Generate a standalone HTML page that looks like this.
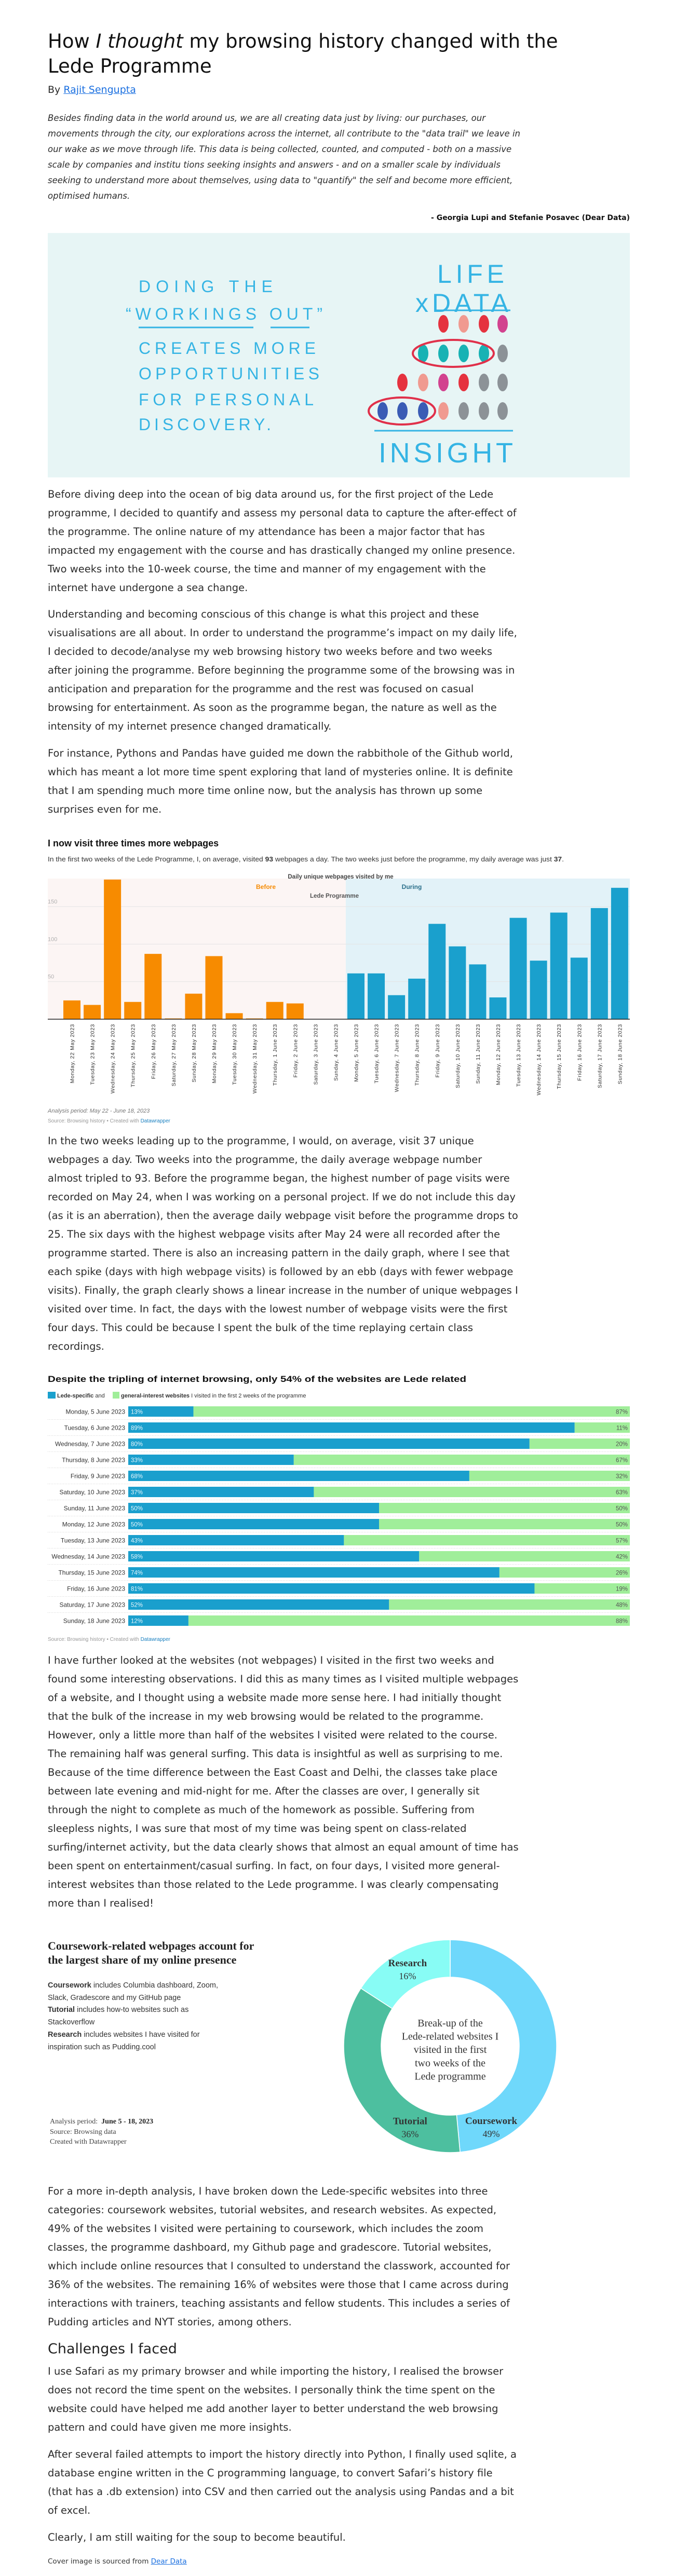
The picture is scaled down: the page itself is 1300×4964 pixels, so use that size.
<!DOCTYPE html>
<html><head><meta charset="utf-8"><title>How I thought my browsing history changed with the Lede Programme</title>
<style>
html,body{margin:0;padding:0;background:#fff;}
body{width:1300px;height:4964px;position:relative;overflow:hidden;font-family:"DejaVu Sans","Liberation Sans",sans-serif;color:#2a2a2a;}
.abs{position:absolute;left:92px;white-space:nowrap;}
.p{font-size:19.5px;line-height:36px;color:#2b2b2b;}
.q{font-size:16.5px;line-height:30px;font-style:italic;color:#2b2b2b;}
a{color:#1a6fe0;}
svg text{font-family:"Liberation Sans",sans-serif;}
</style></head>
<body>
<h1 class="abs" style="top:56px;margin:0;font-weight:normal;font-size:37px;line-height:48px;color:#111;">How <i>I thought</i> my browsing history changed with the<br>Lede Programme</h1>
<div class="abs" style="top:161px;font-size:19px;line-height:24px;">By <a href="#">Rajit Sengupta</a></div>
<div class="abs q" style="top:213px;">Besides finding data in the world around us, we are all creating data just by living: our purchases, our<br>movements through the city, our explorations across the internet, all contribute to the "data trail" we leave in<br>our wake as we move through life. This data is being collected, counted, and computed - both on a massive<br>scale by companies and institu tions seeking insights and answers - and on a smaller scale by individuals<br>seeking to understand more about themselves, using data to "quantify" the self and become more efficient,<br>optimised humans.</div>
<div class="abs" style="top:412px;left:auto;right:87px;font-size:14px;font-weight:bold;color:#111;">- Georgia Lupi and Stefanie Posavec (Dear Data)</div>

<div class="abs p" style="top:935px;">Before diving deep into the ocean of big data around us, for the first project of the Lede<br>programme, I decided to quantify and assess my personal data to capture the after-effect of<br>the programme. The online nature of my attendance has been a major factor that has<br>impacted my engagement with the course and has drastically changed my online presence.<br>Two weeks into the 10-week course, the time and manner of my engagement with the<br>internet have undergone a sea change.</div>
<div class="abs p" style="top:1166px;">Understanding and becoming conscious of this change is what this project and these<br>visualisations are all about. In order to understand the programme’s impact on my daily life,<br>I decided to decode/analyse my web browsing history two weeks before and two weeks<br>after joining the programme. Before beginning the programme some of the browsing was in<br>anticipation and preparation for the programme and the rest was focused on casual<br>browsing for entertainment. As soon as the programme began, the nature as well as the<br>intensity of my internet presence changed dramatically.</div>
<div class="abs p" style="top:1434px;">For instance, Pythons and Pandas have guided me down the rabbithole of the Github world,<br>which has meant a lot more time spent exploring that land of mysteries online. It is definite<br>that I am spending much more time online now, but the analysis has thrown up some<br>surprises even for me.</div>

<div class="abs p" style="top:2181px;">In the two weeks leading up to the programme, I would, on average, visit 37 unique<br>webpages a day. Two weeks into the programme, the daily average webpage number<br>almost tripled to 93. Before the programme began, the highest number of page visits were<br>recorded on May 24, when I was working on a personal project. If we do not include this day<br>(as it is an aberration), then the average daily webpage visit before the programme drops to<br>25. The six days with the highest webpage visits after May 24 were all recorded after the<br>programme started. There is also an increasing pattern in the daily graph, where I see that<br>each spike (days with high webpage visits) is followed by an ebb (days with fewer webpage<br>visits). Finally, the graph clearly shows a linear increase in the number of unique webpages I<br>visited over time. In fact, the days with the lowest number of webpage visits were the first<br>four days. This could be because I spent the bulk of the time replaying certain class<br>recordings.</div>

<div class="abs p" style="top:3182px;">I have further looked at the websites (not webpages) I visited in the first two weeks and<br>found some interesting observations. I did this as many times as I visited multiple webpages<br>of a website, and I thought using a website made more sense here. I had initially thought<br>that the bulk of the increase in my web browsing would be related to the programme.<br>However, only a little more than half of the websites I visited were related to the course.<br>The remaining half was general surfing. This data is insightful as well as surprising to me.<br>Because of the time difference between the East Coast and Delhi, the classes take place<br>between late evening and mid-night for me. After the classes are over, I generally sit<br>through the night to complete as much of the homework as possible. Suffering from<br>sleepless nights, I was sure that most of my time was being spent on class-related<br>surfing/internet activity, but the data clearly shows that almost an equal amount of time has<br>been spent on entertainment/casual surfing. In fact, on four days, I visited more general-<br>interest websites than those related to the Lede programme. I was clearly compensating<br>more than I realised!</div>

<div class="abs" style="top:3736px;font-family:'Liberation Serif',serif;font-weight:bold;font-size:22px;line-height:27px;color:#222;">Coursework-related webpages account for<br>the largest share of my online presence</div>
<div class="abs" style="top:3815px;font-family:'Liberation Sans',sans-serif;font-size:14.5px;line-height:23.7px;color:#333;"><b>Coursework</b> includes Columbia dashboard, Zoom,<br>Slack, Gradescore and my GitHub page<br><b>Tutorial</b> includes how-to websites such as<br>Stackoverflow<br><b>Research</b> includes websites I have visited for<br>inspiration such as Pudding.cool</div>
<div class="abs" style="top:4079px;left:96px;font-family:'Liberation Serif',serif;font-size:14px;line-height:19.5px;color:#444;">Analysis period:&nbsp; <b style="color:#222">June 5 - 18, 2023</b><br>Source: Browsing data<br>Created with Datawrapper</div>

<div class="abs p" style="top:4205px;">For a more in-depth analysis, I have broken down the Lede-specific websites into three<br>categories: coursework websites, tutorial websites, and research websites. As expected,<br>49% of the websites I visited were pertaining to coursework, which includes the zoom<br>classes, the programme dashboard, my Github page and gradescore. Tutorial websites,<br>which include online resources that I consulted to understand the classwork, accounted for<br>36% of the websites. The remaining 16% of websites were those that I came across during<br>interactions with trainers, teaching assistants and fellow students. This includes a series of<br>Pudding articles and NYT stories, among others.</div>
<h2 class="abs" style="top:4508px;margin:0;font-weight:normal;font-size:27px;line-height:38px;color:#222;">Challenges I faced</h2>
<div class="abs p" style="top:4552px;">I use Safari as my primary browser and while importing the history, I realised the browser<br>does not record the time spent on the websites. I personally think the time spent on the<br>website could have helped me add another layer to better understand the web browsing<br>pattern and could have given me more insights.</div>
<div class="abs p" style="top:4712px;">After several failed attempts to import the history directly into Python, I finally used sqlite, a<br>database engine written in the C programming language, to convert Safari’s history file<br>(that has a .db extension) into CSV and then carried out the analysis using Pandas and a bit<br>of excel.</div>
<div class="abs p" style="top:4872px;">Clearly, I am still waiting for the soup to become beautiful.</div>
<div class="abs" style="top:4927px;font-size:13.5px;line-height:18px;color:#333;">Cover image is sourced from <a href="#">Dear Data</a></div>

<svg id="art" width="1300" height="4964" style="position:absolute;left:0;top:0;pointer-events:none;" xmlns="http://www.w3.org/2000/svg">
 <g id="cover" transform="translate(92,449)">
  <rect width="1121" height="471" fill="#e7f5f5"/>
  <g fill="#35b4e4" font-size="32" style="font-family:'Liberation Sans',sans-serif">
   <text x="175" y="114" textLength="258" lengthAdjust="spacing">DOING THE</text>
   <text x="150" y="167" textLength="379" lengthAdjust="spacing">“WORKINGS OUT”</text>
   <text x="175" y="233" textLength="341" lengthAdjust="spacing">CREATES MORE</text>
   <text x="175" y="282" textLength="348" lengthAdjust="spacing">OPPORTUNITIES</text>
   <text x="175" y="332" textLength="337" lengthAdjust="spacing">FOR PERSONAL</text>
   <text x="175" y="380" textLength="255" lengthAdjust="spacing">DISCOVERY.</text>
   <text x="750" y="96" font-size="50" textLength="129" lengthAdjust="spacing">LIFE</text>
   <text x="708" y="152" font-size="50" textLength="179" lengthAdjust="spacing">xDATA</text>
   <text x="637" y="442" font-size="54" textLength="259" lengthAdjust="spacing">INSIGHT</text>
  </g>
  <g stroke="#35b4e4" stroke-width="3">
   <line x1="175" y1="182" x2="396" y2="182"/><line x1="429" y1="182" x2="504" y2="182"/>
   <line x1="745" y1="149" x2="891" y2="149"/><line x1="629" y1="381" x2="896" y2="381"/>
  </g>
  <g>
   <ellipse cx="762" cy="175" rx="10" ry="17" fill="#e5323f"/><ellipse cx="801" cy="175" rx="10" ry="17" fill="#f09a90"/><ellipse cx="840" cy="175" rx="10" ry="17" fill="#e5323f"/><ellipse cx="876" cy="175" rx="10" ry="17" fill="#d2428f"/>
   <ellipse cx="723" cy="232" rx="10" ry="17" fill="#17b2b4"/><ellipse cx="762" cy="232" rx="10" ry="17" fill="#17b2b4"/><ellipse cx="801" cy="232" rx="10" ry="17" fill="#17b2b4"/><ellipse cx="840" cy="232" rx="10" ry="17" fill="#17b2b4"/><ellipse cx="876" cy="232" rx="10" ry="17" fill="#8c9297"/>
   <ellipse cx="781" cy="232" rx="78" ry="26" fill="none" stroke="#e0304a" stroke-width="4"/>
   <ellipse cx="683" cy="288" rx="10" ry="17" fill="#e5323f"/><ellipse cx="723" cy="288" rx="10" ry="17" fill="#f09a90"/><ellipse cx="762" cy="288" rx="10" ry="17" fill="#d2428f"/><ellipse cx="801" cy="288" rx="10" ry="17" fill="#e5323f"/><ellipse cx="840" cy="288" rx="10" ry="17" fill="#8c9297"/><ellipse cx="876" cy="288" rx="10" ry="17" fill="#8c9297"/>
   <ellipse cx="645" cy="343" rx="10" ry="17" fill="#3a5cb5"/><ellipse cx="683" cy="343" rx="10" ry="17" fill="#3a5cb5"/><ellipse cx="723" cy="343" rx="10" ry="17" fill="#3a5cb5"/><ellipse cx="762" cy="343" rx="10" ry="17" fill="#f09a90"/><ellipse cx="801" cy="343" rx="10" ry="17" fill="#8c9297"/><ellipse cx="840" cy="343" rx="10" ry="17" fill="#8c9297"/><ellipse cx="876" cy="343" rx="10" ry="17" fill="#8c9297"/>
   <ellipse cx="682" cy="343" rx="64" ry="26" fill="none" stroke="#e0304a" stroke-width="4"/>
  </g>
 </g>
 <g id="chart1"></g>
 <g id="chart2"></g>
 <g id="chart3"></g>
</svg>

<script>
// ---------- Chart 1 data ----------
const days1 = ["Monday, 22 May 2023","Tuesday, 23 May 2023","Wednesday, 24 May 2023","Thursday, 25 May 2023","Friday, 26 May 2023","Saturday, 27 May 2023","Sunday, 28 May 2023","Monday, 29 May 2023","Tuesday, 30 May 2023","Wednesday, 31 May 2023","Thursday, 1 June 2023","Friday, 2 June 2023","Saturday, 3 June 2023","Sunday, 4 June 2023","Monday, 5 June 2023","Tuesday, 6 June 2023","Wednesday, 7 June 2023","Thursday, 8 June 2023","Friday, 9 June 2023","Saturday, 10 June 2023","Sunday, 11 June 2023","Monday, 12 June 2023","Tuesday, 13 June 2023","Wednesday, 14 June 2023","Thursday, 15 June 2023","Friday, 16 June 2023","Saturday, 17 June 2023","Sunday, 18 June 2023"];
const visits = [25,19,186,23,87,1,34,84,8,1,23,21,0,0,61,61,32,54,127,97,73,29,135,78,142,82,148,175];
const phase = ["before","before","before","before","before","before","before","before","before","before","before","before","before","before","during","during","during","during","during","during","during","during","during","during","during","during","during","during"];
const yTicks1 = [50,100,150];
// ---------- Chart 2 data ----------
const days2 = ["Monday, 5 June 2023","Tuesday, 6 June 2023","Wednesday, 7 June 2023","Thursday, 8 June 2023","Friday, 9 June 2023","Saturday, 10 June 2023","Sunday, 11 June 2023","Monday, 12 June 2023","Tuesday, 13 June 2023","Wednesday, 14 June 2023","Thursday, 15 June 2023","Friday, 16 June 2023","Saturday, 17 June 2023","Sunday, 18 June 2023"];
const ledeShare = [13,89,80,33,68,37,50,50,43,58,74,81,52,12];
const generalShare = [87,11,20,67,32,63,50,50,57,42,26,19,48,88];
// ---------- Chart 3 data ----------
const categories3 = ["Coursework","Tutorial","Research"];
const shares3 = [49,36,16];

const NS = "http://www.w3.org/2000/svg";
function mk(tag, attrs, parent){const e=document.createElementNS(NS,tag);for(const k in attrs)e.setAttribute(k,attrs[k]);parent.appendChild(e);return e;}
function txt(str, attrs, parent){const e=mk("text",attrs,parent);e.textContent=str;return e;}

// ===== Chart 1 =====
(function(){
 const g=document.getElementById("chart1");
 const L=92,R=1213,T=1693,B=1964;
 const step=39.07, bw=33, x0=122;
 const x1=i=>x0+i*step;
 const y1=v=>B-v*(B-1747)/150;
 let t;
 t=txt("I now visit three times more webpages",{x:L,y:1631,"font-size":18,"font-weight":"bold",fill:"#111"},g);
 
 
 t=mk("text",{x:L,y:1660,"font-size":12.5,fill:"#333",textLength:994,lengthAdjust:"spacingAndGlyphs"},g);
 t.innerHTML='In the first two weeks of the Lede Programme, I, on average, visited <tspan font-weight="bold">93</tspan> webpages a day. The two weeks just before the programme, my daily average was just <tspan font-weight="bold">37</tspan>.';
 
 
 const split=(x1(13)+bw+x1(14))/2;
 let r=mk("rect",{x:L,y:T,width:split-L,height:B-T,fill:"#fcf5f4"},g);
 
 
 r=mk("rect",{x:split,y:T,width:R-split,height:B-T,fill:"#e2f2f8"},g);
 
 
 yTicks1.forEach(v=>{
  const l=mk("line",{x1:L,x2:R,y1:y1(v),y2:y1(v),stroke:"#e4e4e4","stroke-width":1},g);
  
  
  const tl=txt(String(v),{x:L,y:y1(v)-6,"font-size":11,fill:"#b0b0b0"},g);
  
  
 });
 t=txt("Daily unique webpages visited by me",{x:656,y:1693,"font-size":11.5,fill:"#444","text-anchor":"middle","font-weight":"bold"},g);
 
 
 t=txt("Before",{x:512,y:1713,"font-size":12,fill:"#f68a00","text-anchor":"middle","font-weight":"bold"},g);
 
 
 t=txt("During",{x:793,y:1713,"font-size":12,fill:"#2a6f8a","text-anchor":"middle","font-weight":"bold"},g);
 
 
 t=txt("Lede Programme",{x:644,y:1730,"font-size":11.5,fill:"#555","text-anchor":"middle","font-weight":"bold"},g);
 
 
 visits.forEach((v,i)=>{
  const b=mk("rect",{x:x1(i),y:y1(v),width:bw,height:B-y1(v),fill:phase[i]==="before"?"#f78b00":"#1aa0cd"},g);
  
  
  const cx=x1(i)+bw/2+4;
  const lab=txt(days1[i],{x:cx,y:1973,"font-size":10.5,fill:"#333","text-anchor":"end",transform:"rotate(-90 "+cx+" 1973)","letter-spacing":"0.6"},g);
  
  
 });
 const ax=mk("line",{x1:L,x2:R,y1:B,y2:B,stroke:"#222","stroke-width":1.5},g);
 
 
 t=txt("Analysis period: May 22 - June 18, 2023",{x:L,y:2144,"font-size":11,fill:"#777","font-style":"italic"},g);
 
 
 t=mk("text",{x:L,y:2163,"font-size":10,fill:"#999"},g);
 t.innerHTML='Source: Browsing history • Created with <tspan fill="#1a80c0">Datawrapper</tspan>';
 
 
})();

// ===== Chart 2 =====
(function(){
 const g=document.getElementById("chart2");
 const L=92,R=1213,X0=247,W=R-X0,top0=2710,rowH=31,bh=20;
 const x2=p=>X0+p/100*W;
 let t=txt("Despite the tripling of internet browsing, only 54% of the websites are Lede related",{x:L,y:2663,"font-size":17,"font-weight":"bold",fill:"#111",textLength:806,lengthAdjust:"spacingAndGlyphs"},g);
 
 
 let s=mk("rect",{x:L,y:2682,width:15,height:13,fill:"#1aa0cd"},g);
 
 
 s=mk("rect",{x:217,y:2682,width:13,height:13,fill:"#a0ee9a"},g);
 
 
 t=mk("text",{x:110,y:2693,"font-size":11,fill:"#333"},g);
 t.innerHTML='<tspan font-weight="bold">Lede-specific</tspan> and';
 
 
 t=mk("text",{x:233,y:2693,"font-size":11,fill:"#333"},g);
 t.innerHTML='<tspan font-weight="bold">general-interest websites</tspan> I visited in the first 2 weeks of the programme';
 
 
 days2.forEach((d,i)=>{
  const y=top0+i*rowH;
  const lab=txt(d,{x:241,y:y+14.5,"font-size":12,fill:"#333","text-anchor":"end"},g);
  
  
  const a=mk("rect",{x:x2(0),y:y,width:x2(ledeShare[i])-x2(0),height:bh,fill:"#1a9fcd"},g);
  
  
  const b=mk("rect",{x:x2(ledeShare[i]),y:y,width:x2(ledeShare[i]+generalShare[i])-x2(ledeShare[i]),height:bh,fill:"#a0ee9a"},g);
  
  
  const v1=txt(ledeShare[i]+"%",{x:x2(0)+5,y:y+14.5,"font-size":11.5,fill:"#e8f6fb"},g);
  
  
  const v2=txt(generalShare[i]+"%",{x:x2(100)-4,y:y+14.5,"font-size":11.5,fill:"#555","text-anchor":"end"},g);
  
  
  if(i<days2.length-1){
   const l=mk("line",{x1:L,x2:R,y1:y+bh+5.5,y2:y+bh+5.5,stroke:"#cfcfcf","stroke-width":1,"stroke-dasharray":"1,2"},g);
   
   
  }
 });
 t=mk("text",{x:L,y:3162,"font-size":10,fill:"#999"},g);
 t.innerHTML='Source: Browsing history • Created with <tspan fill="#1a80c0">Datawrapper</tspan>';
 
 
})();

// ===== Chart 3 =====
(function(){
 const g=document.getElementById("chart3");
 const cx=867,cy=3943,Ro=205,Ri=133;
 const colors={"Coursework":"#6fd8fb","Tutorial":"#4dbf9f","Research":"#88fcf5"};
 const total=shares3.reduce((a,b)=>a+b,0);
 const pt=(ang,r)=>[cx+r*Math.sin(ang*Math.PI/180),cy-r*Math.cos(ang*Math.PI/180)];
 let a0=0;
 shares3.forEach((v,i)=>{
  const a1=a0+v/total*360;
  const [ox0,oy0]=pt(a0,Ro),[ox1,oy1]=pt(a1,Ro),[ix1,iy1]=pt(a1,Ri),[ix0,iy0]=pt(a0,Ri);
  const large=(a1-a0)>180?1:0;
  const d=`M${ox0},${oy0} A${Ro},${Ro} 0 ${large} 1 ${ox1},${oy1} L${ix1},${iy1} A${Ri},${Ri} 0 ${large} 0 ${ix0},${iy0} Z`;
  const p=mk("path",{d:d,fill:colors[categories3[i]],stroke:"#fff","stroke-width":1.5},g);
  
  
  let la;
  if(Math.abs(a1-180)<15) la=a1-22; else if(Math.abs(a0-180)<15) la=a0+32; else la=(a0+a1)/2;
  const [lx,ly]=pt(la,172);
  const n=txt(categories3[i],{x:lx,y:ly-3,"font-size":19,"font-weight":"bold",fill:"#333","text-anchor":"middle",style:"font-family:'Liberation Serif',serif"},g);
  
  
  const pv=txt(v+"%",{x:lx,y:ly+22,"font-size":18,fill:"#333","text-anchor":"middle",style:"font-family:'Liberation Serif',serif"},g);
  
  
  a0=a1;
 });
 const lines=["Break-up of the","Lede-related websites I","visited in the first","two weeks of the","Lede programme"];
 lines.forEach((s,i)=>{
  const c=txt(s,{x:cx,y:3905+i*25.6,"font-size":20,fill:"#333","text-anchor":"middle",style:"font-family:'Liberation Serif',serif"},g);
  
  
 });
})();
</script>
</body></html>
